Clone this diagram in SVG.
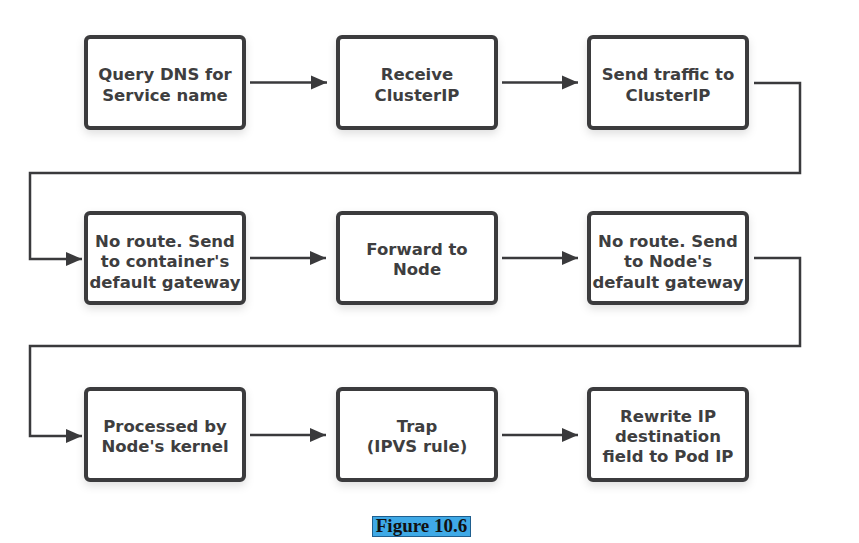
<svg xmlns="http://www.w3.org/2000/svg" width="859" height="543" viewBox="0 0 859 543">
<defs>
<style>
.box{fill:#ffffff;stroke:#3a3a3c;stroke-width:4;filter:url(#sh)}
.lbl{font-family:"DejaVu Sans",sans-serif;font-weight:700;font-size:16.5px;fill:#3e3e40;text-anchor:middle}
.con{fill:none;stroke:#3a3a3c;stroke-width:2.5}
.cap{font-family:"Liberation Serif","Times New Roman",serif;font-weight:700;font-size:19px;fill:#111111;text-anchor:middle}
</style>
<filter id="sh" x="-20%" y="-20%" width="140%" height="150%">
<feDropShadow dx="0" dy="4" stdDeviation="4" flood-color="#000000" flood-opacity="0.12"/>
</filter>
<marker id="ah" markerUnits="userSpaceOnUse" markerWidth="16" markerHeight="16" viewBox="0 0 16 16" refX="16" refY="8" orient="auto">
<path d="M0,1 L16,8 L0,15 Z" fill="#3a3a3c"/>
</marker>
</defs>
<rect width="859" height="543" fill="#ffffff"/>
<g id="connectors">
<path class="con" d="M250,82.5 H327" marker-end="url(#ah)"/>
<path class="con" d="M502,82.5 H578" marker-end="url(#ah)"/>
<path class="con" d="M754,83 H800 V173 H30 V259 H82" marker-end="url(#ah)"/>
<path class="con" d="M250,258 H326" marker-end="url(#ah)"/>
<path class="con" d="M502,258 H578" marker-end="url(#ah)"/>
<path class="con" d="M754,258 H800 V346 H30 V436 H82" marker-end="url(#ah)"/>
<path class="con" d="M250,435 H326" marker-end="url(#ah)"/>
<path class="con" d="M502,435 H578" marker-end="url(#ah)"/>
</g>
<g id="n1"><rect class="box" x="86" y="37" width="158" height="91" rx="4"/>
<text class="lbl" x="165" y="80">Query DNS for</text><text class="lbl" x="165" y="101">Service name</text></g>
<g id="n2"><rect class="box" x="338" y="37" width="158" height="91" rx="4"/>
<text class="lbl" x="417" y="80">Receive</text><text class="lbl" x="417" y="101">ClusterIP</text></g>
<g id="n3"><rect class="box" x="589" y="37" width="158" height="91" rx="4"/>
<text class="lbl" x="668" y="80">Send traffic to</text><text class="lbl" x="668" y="101">ClusterIP</text></g>
<g id="n4"><rect class="box" x="86" y="213" width="158" height="90" rx="4"/>
<text class="lbl" x="165" y="247">No route. Send</text><text class="lbl" x="165" y="267">to container's</text><text class="lbl" x="165" y="288">default gateway</text></g>
<g id="n5"><rect class="box" x="338" y="213" width="158" height="90" rx="4"/>
<text class="lbl" x="417" y="255">Forward to</text><text class="lbl" x="417" y="275">Node</text></g>
<g id="n6"><rect class="box" x="589" y="213" width="158" height="90" rx="4"/>
<text class="lbl" x="668" y="247">No route. Send</text><text class="lbl" x="668" y="267">to Node's</text><text class="lbl" x="668" y="288">default gateway</text></g>
<g id="n7"><rect class="box" x="86" y="389" width="158" height="91" rx="4"/>
<text class="lbl" x="165" y="432">Processed by</text><text class="lbl" x="165" y="452">Node's kernel</text></g>
<g id="n8"><rect class="box" x="338" y="389" width="158" height="91" rx="4"/>
<text class="lbl" x="417" y="432">Trap</text><text class="lbl" x="417" y="452">(IPVS rule)</text></g>
<g id="n9"><rect class="box" x="589" y="389" width="158" height="91" rx="4"/>
<text class="lbl" x="668" y="422">Rewrite IP</text><text class="lbl" x="668" y="442">destination</text><text class="lbl" x="668" y="462">field to Pod IP</text></g>
<g id="caption">
<rect x="372.5" y="516.5" width="98" height="20" fill="#3fa9e6" stroke="#1f5f8f" stroke-width="1"/>
<text class="cap" x="421.5" y="532">Figure 10.6</text>
</g>
</svg>
